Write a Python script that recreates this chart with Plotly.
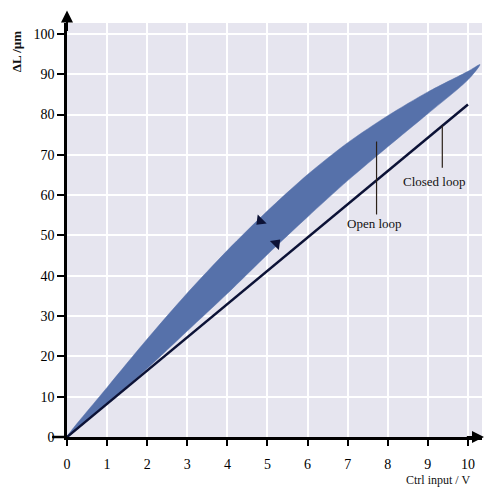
import plotly.graph_objects as go

# Control voltage (V) and measured extension (µm)
volts = [0, 1, 2, 3, 4, 5, 6, 7, 8, 9, 10, 10.3]
upper_um = [0, 12.3, 24.3, 35.7, 46.3, 56.1, 65.1, 73.0, 79.7, 85.6, 90.7, 92.4]
lower_um = [0, 8.4, 17.0, 26.3, 35.6, 45.3, 54.6, 63.6, 72.0, 80.2, 88.6, 92.4]

closed_v = [0, 10]
closed_um = [0, 82.5]

x_ticks = list(range(0, 11))
y_ticks = list(range(0, 101, 10))

SERIF = "Liberation Serif, Times New Roman, serif"
BAND = "#5671aa"
NAVY = "#0c1236"

fig = go.Figure()

# Open-loop hysteresis band: upper (falling) branch back to origin, then rising branch
loop_x = volts[::-1] + volts[1:]
loop_y = upper_um[::-1] + lower_um[1:]
fig.add_trace(go.Scatter(
    x=loop_x, y=loop_y, mode="lines", fill="toself",
    fillcolor=BAND, line=dict(color=BAND, width=0.5, shape="spline", smoothing=0.8),
    hoverinfo="skip", showlegend=False,
))

# Closed-loop response
fig.add_trace(go.Scatter(
    x=closed_v, y=closed_um, mode="lines",
    line=dict(color=NAVY, width=2.5), showlegend=False,
))

# Direction markers on the two branches
fig.add_trace(go.Scatter(
    x=[4.82, 5.22], y=[53.6, 48.0], mode="markers",
    marker=dict(symbol="triangle-up", size=11, color=NAVY, angle=[225, 45],
                line=dict(width=0)),
    showlegend=False, cliponaxis=False,
))

# Pointer lines for the labels
fig.add_trace(go.Scatter(
    x=[7.72, 7.72, None, 9.36, 9.36], y=[73.3, 55.2, None, 77.3, 66.8],
    mode="lines", line=dict(color="#2a2018", width=1.2), showlegend=False,
))

fig.add_annotation(x=7.68, y=53.0, text="Open loop", showarrow=False,
                   font=dict(family=SERIF, size=13, color="#111"))
fig.add_annotation(x=9.15, y=63.4, text="Closed loop", showarrow=False,
                   font=dict(family=SERIF, size=13, color="#111"))

# Axis arrowheads
fig.add_annotation(xref="paper", yref="paper", x=0, y=1.03, ax=0, ay=22,
                   axref="pixel", ayref="pixel", text="", showarrow=True,
                   arrowhead=2, arrowsize=1.2, arrowwidth=2, arrowcolor="#000")
fig.add_annotation(xref="paper", yref="paper", x=1.008, y=0, ax=-20, ay=0,
                   axref="pixel", ayref="pixel", text="", showarrow=True,
                   arrowhead=2, arrowsize=1.2, arrowwidth=2, arrowcolor="#000")

# Longer tick at the origin of the value axis
fig.add_shape(type="line", xref="paper", yref="paper", x0=-0.036, x1=0, y0=0, y1=0,
              line=dict(color="#000", width=2.5))

# Axis titles
fig.add_annotation(xref="paper", yref="paper", x=-0.12, y=0.93, xanchor="center",
                   yanchor="middle", text="<b>ΔL /µm</b>", textangle=-90, showarrow=False,
                   font=dict(family=SERIF, size=13, color="#111"))
fig.add_annotation(xref="paper", yref="paper", x=0.895, y=-0.1256, xanchor="center",
                   yanchor="bottom", text="Ctrl input / V", showarrow=False,
                   font=dict(family=SERIF, size=12, color="#111"))

fig.update_xaxes(
    range=[0, 10.35], tickvals=x_ticks, ticks="outside", ticklen=6, tickwidth=2,
    tickcolor="#000", showline=True, linecolor="#000", linewidth=2.5,
    showgrid=True, gridcolor="#ffffff", gridwidth=1.5, zeroline=False,
    ticklabelstandoff=6,
    tickfont=dict(family=SERIF, size=14, color="#000"),
)
fig.update_yaxes(
    range=[0, 102.7], tickvals=y_ticks, ticks="outside", ticklen=7, tickwidth=2,
    tickcolor="#000", showline=True, linecolor="#000", linewidth=2.5,
    showgrid=True, gridcolor="#ffffff", gridwidth=1.5, zeroline=False,
    tickfont=dict(family=SERIF, size=14, color="#000"),
)

fig.update_layout(
    width=485, height=489,
    margin=dict(l=67, r=3, t=23, b=52),
    paper_bgcolor="#ffffff", plot_bgcolor="#e6e5ef",
    showlegend=False,
)

fig.write_html("out.html")
